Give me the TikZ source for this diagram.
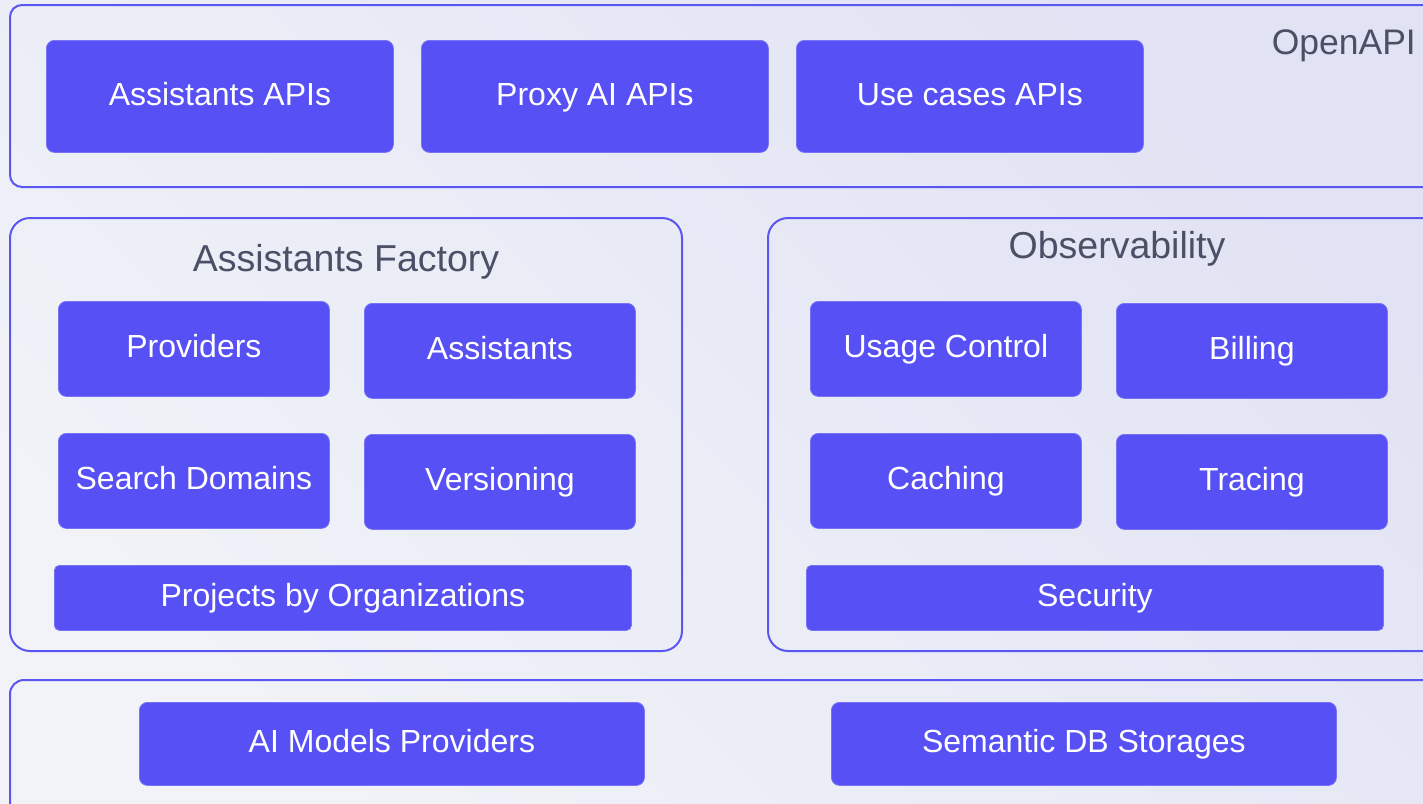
\documentclass[tikz,border=0pt]{standalone}
\usepackage{fontspec}
\setmainfont{Liberation Sans}
\definecolor{boxc}{HTML}{5650F5}
\definecolor{boxe}{HTML}{7873F5}
\definecolor{framec}{HTML}{5B55F2}
\definecolor{titlec}{HTML}{4B5066}
\definecolor{bglight}{HTML}{F1F3F8}
\definecolor{bgdark}{HTML}{E1E3F4}
\begin{document}
\begin{tikzpicture}[x=1pt,y=-1pt,
  blk/.style={fill=boxc,draw=boxe,line width=0.8pt,rounded corners=8pt,text=white,
    font=\fontsize{32}{38}\selectfont,inner sep=0pt,text height=18pt,text depth=0pt,anchor=north west},
  frame/.style={draw=framec,line width=2pt,rounded corners=16pt},
  ttl/.style={text=titlec,font=\fontsize{37.5}{44}\selectfont,inner sep=0pt,text height=27pt,text depth=0pt}]
\useasboundingbox (0,0) rectangle (1423,803);
\shade[top color=bgdark,bottom color=bglight,shading angle=-45] (0,803) rectangle (1423,0);
% frames
\draw[frame,rounded corners=12pt] (10,5) rectangle (1445,187);
\draw[frame,rounded corners=20pt] (10,218) rectangle (682,651);
\draw[frame,rounded corners=20pt] (768,218) rectangle (1445,651);
\draw[frame,rounded corners=14pt] (10,680) rectangle (1445,830);
% titles
\node[ttl,anchor=east,font=\fontsize{35.5}{42}\selectfont,text height=25.5pt] (openapi) at (1416,42) {OpenAPI};
\node[ttl] (factory) at (346,258) {Assistants Factory};
\node[ttl] (observ) at (1117,245) {Observability};
% OpenAPI boxes
\node[blk,minimum width=347pt,minimum height=112pt] (aapi) at (46,40) {Assistants APIs};
\node[blk,minimum width=347pt,minimum height=112pt] (papi) at (421,40) {Proxy AI APIs};
\node[blk,minimum width=347pt,minimum height=112pt] (uapi) at (796,40) {Use cases APIs};
% Factory boxes
\node[blk,minimum width=271pt,minimum height=95pt] (prov) at (58,301) {Providers};
\node[blk,minimum width=271pt,minimum height=95pt] (assi) at (364,303) {Assistants};
\node[blk,minimum width=271pt,minimum height=95pt] (sear) at (58,433) {Search Domains};
\node[blk,minimum width=271pt,minimum height=95pt] (vers) at (364,434) {Versioning};
\node[blk,minimum width=577pt,minimum height=65pt,rounded corners=5pt] (proj) at (54,565) {Projects by Organizations};
% Observability boxes
\node[blk,minimum width=271pt,minimum height=95pt] (usag) at (810,301) {Usage Control};
\node[blk,minimum width=271pt,minimum height=95pt] (bill) at (1116,303) {Billing};
\node[blk,minimum width=271pt,minimum height=95pt] (cach) at (810,433) {Caching};
\node[blk,minimum width=271pt,minimum height=95pt] (trac) at (1116,434) {Tracing};
\node[blk,minimum width=577pt,minimum height=65pt,rounded corners=5pt] (secu) at (806,565) {Security};
% bottom boxes
\node[blk,minimum width=505pt,minimum height=83pt] (aimp) at (139,702) {AI Models Providers};
\node[blk,minimum width=505pt,minimum height=83pt] (sdbs) at (831,702) {Semantic DB Storages};
\end{tikzpicture}
\end{document}
